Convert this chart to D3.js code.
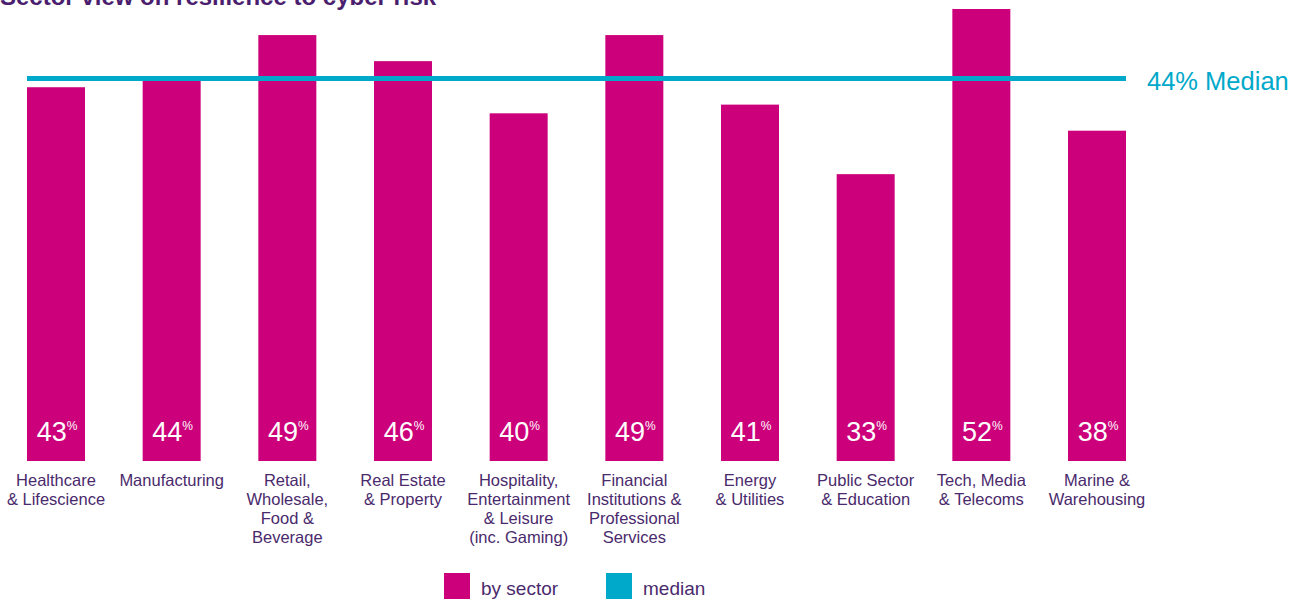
<!DOCTYPE html>
<html>
<head>
<meta charset="utf-8">
<script src="https://cdn.jsdelivr.net/npm/d3@7"></script>
<style>
  html, body { margin: 0; padding: 0; background: #fff; }
  svg { display: block; font-family: "Liberation Sans", Arial, sans-serif; }
</style>
</head>
<body>
<svg id="chart" width="1298" height="599"></svg>
<script>
// Sector scores and labels
const sectors = [
  ["Healthcare", "& Lifescience"],
  ["Manufacturing"],
  ["Retail,", "Wholesale,", "Food &", "Beverage"],
  ["Real Estate", "& Property"],
  ["Hospitality,", "Entertainment", "& Leisure", "(inc. Gaming)"],
  ["Financial", "Institutions &", "Professional", "Services"],
  ["Energy", "& Utilities"],
  ["Public Sector", "& Education"],
  ["Tech, Media", "& Telecoms"],
  ["Marine &", "Warehousing"]
];
const scores = [43, 44, 49, 46, 40, 49, 41, 33, 52, 38];
const median = 44;
const legendItems = ["by sector", "median"];

const barColor = "#cc007a";
const medianColor = "#00a9c9";
const textColor = "#4a2a6c";

const svg = d3.select("#chart");

const x = d3.scaleBand()
  .domain(d3.range(scores.length))
  .range([0, 1153])
  .paddingInner(0.4986)
  .paddingOuter(0.2334);

const y = d3.scaleLinear().domain([0, 52]).range([461, 9]);

// Title (sits partly above the top edge)
svg.append("text")
  .attr("x", 0).attr("y", 5)
  .attr("font-size", 24).attr("font-weight", "bold")
  .attr("fill", "#4b1d6e")
  .text("Sector view on resilience to cyber risk");

// Bars
svg.selectAll("rect.bar")
  .data(scores)
  .join("rect")
  .attr("class", "bar")
  .attr("x", (d, i) => x(i))
  .attr("width", x.bandwidth())
  .attr("y", d => y(d))
  .attr("height", d => y(0) - y(d))
  .attr("fill", barColor);

// Median line
const first = x(0), last = x(scores.length - 1) + x.bandwidth();
svg.append("line")
  .attr("x1", first).attr("x2", last)
  .attr("y1", y(median)).attr("y2", y(median))
  .attr("stroke", medianColor).attr("stroke-width", 5);

svg.append("text")
  .attr("x", last + 21).attr("y", y(median) + 11)
  .attr("font-size", 25.5).attr("fill", medianColor)
  .text(median + "% Median");

// Value labels inside bars
const vals = svg.selectAll("text.val")
  .data(scores)
  .join("text")
  .attr("class", "val")
  .attr("x", (d, i) => x(i) + x.bandwidth() / 2 + 1)
  .attr("y", 441)
  .attr("text-anchor", "middle")
  .attr("fill", "#fff")
  .attr("font-size", 27);
vals.append("tspan").text(d => d);
vals.append("tspan")
  .attr("font-size", 12).attr("dy", -11)
  .text("%");

// Category labels
svg.selectAll("text.cat")
  .data(sectors)
  .join("text")
  .attr("class", "cat")
  .attr("text-anchor", "middle")
  .attr("fill", textColor)
  .attr("font-size", 16.5)
  .each(function(lines, i) {
    const t = d3.select(this);
    lines.forEach((ln, j) => {
      t.append("tspan")
        .attr("x", x(i) + x.bandwidth() / 2)
        .attr("y", 486 + j * 19)
        .text(ln);
    });
  });

// Legend
const legendColors = [barColor, medianColor];
const lg = svg.selectAll("g.leg")
  .data(legendItems)
  .join("g")
  .attr("class", "leg")
  .attr("transform", (d, i) => `translate(${444 + i * 162},573)`);
lg.append("rect")
  .attr("width", 26).attr("height", 26)
  .attr("fill", (d, i) => legendColors[i]);
lg.append("text")
  .attr("x", 37).attr("y", 22)
  .attr("font-size", 19).attr("fill", textColor)
  .text(d => d);
</script>
</body>
</html>
